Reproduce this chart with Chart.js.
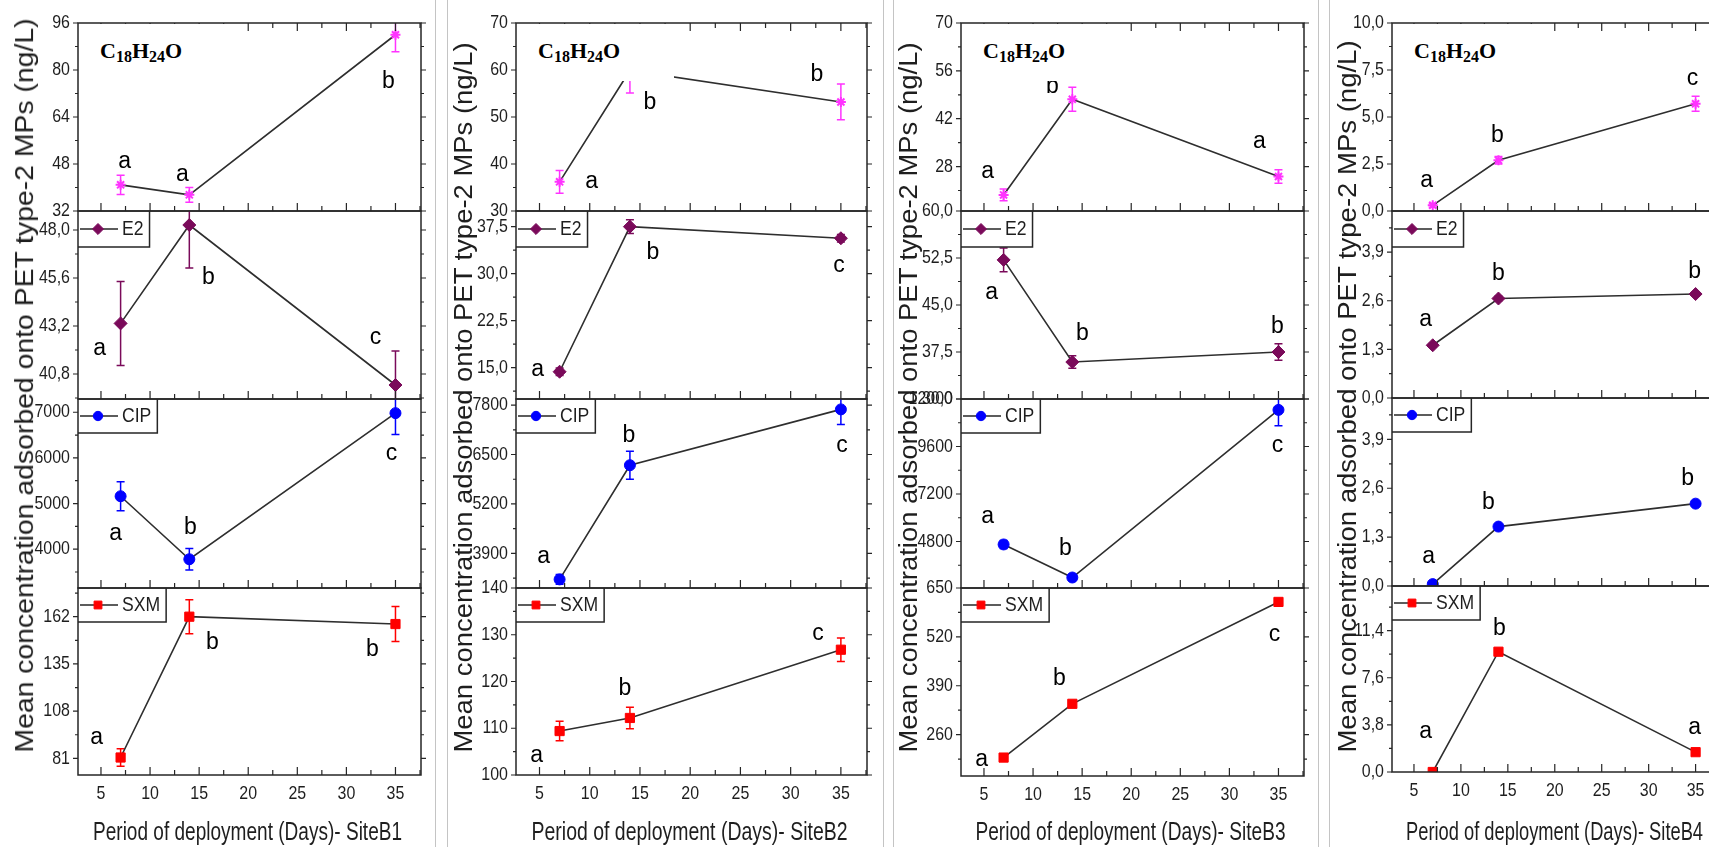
<!DOCTYPE html>
<html><head><meta charset="utf-8">
<script src="https://cdn.jsdelivr.net/npm/chart.js@4.4.1/dist/chart.umd.min.js"></script>
<style>
html,body{margin:0;padding:0;background:#fff;overflow:hidden;width:1709px;height:847px;}
#root{position:relative;width:1709px;height:847px;overflow:hidden;background:#fff;}
#root canvas{position:absolute;}
.sep{position:absolute;top:0;height:847px;width:1px;background:#c4c4c4;}
.ytitle,.xtitle{position:absolute;white-space:nowrap;font-family:'Liberation Sans',Arial,sans-serif;color:#1e1e1e;line-height:1;transform-origin:center center;}
.ytitle{font-size:25px;}
.xtitle{font-size:22px;}
.formula{position:absolute;background:#fff;width:157px;height:57px;}
.formula span{position:absolute;left:21px;top:16px;font-family:'Liberation Serif','Times New Roman',serif;font-weight:bold;font-size:22px;line-height:22px;color:#000;white-space:nowrap;}
.formula sub{font-size:16px;vertical-align:-4px;line-height:0;}
</style></head>
<body><div id="root"></div>
<script>
// ---------------- data ----------------
const days = [7, 14, 35];
const xTicks = [5, 10, 15, 20, 25, 30, 35];
const sites = ['SiteB1', 'SiteB2', 'SiteB3', 'SiteB4'];
const compounds = ['C18H24O', 'E2', 'CIP', 'SXM'];

// mean concentration per compound (rows: C18H24O, E2, CIP, SXM; cols: day 7, 14, 35)
const siteB1Means = [[40.9, 37.5, 92.0], [43.33, 48.25, 40.25], [5160, 3780, 6980], [81.5, 162, 157.8]];
const siteB2Means = [[36.2, 59.9, 53.2], [14.35, 37.5, 35.65], [3216, 6219, 7687], [109.4, 112.2, 126.8]];
const siteB3Means = [[19.7, 47.7, 25.1], [52.2, 35.9, 37.5], [4650, 2980, 11450], [199, 342, 613]];
const siteB4Means = [[0.3, 2.7, 5.7], [1.41, 2.66, 2.78], [0.05, 1.58, 2.19], [0.0, 9.7, 1.6]];

// error (+/-)
const siteB1Errors = [[3.3, 2.5, 5.8], [2.1, 2.15, 1.7], [320, 235, 470], [5, 9.7, 10]];
const siteB2Errors = [[2.4, 4.8, 3.8], [0.6, 1.1, 0.6], [130, 370, 400], [2.1, 2.3, 2.5]];
const siteB3Errors = [[1.7, 3.5, 2.0], [1.9, 1.0, 1.3], [200, 150, 800], [8, 8, 8]];
const siteB4Errors = [[0.1, 0.2, 0.4], [0.05, 0.06, 0.05], [0.03, 0.05, 0.06], [0.1, 0.2, 0.15]];

// significance letters
const siteB1Letters = [['a', 'a', 'b'], ['a', 'b', 'c'], ['a', 'b', 'c'], ['a', 'b', 'b']];
const siteB2Letters = [['a', 'b', 'b'], ['a', 'b', 'c'], ['a', 'b', 'c'], ['a', 'b', 'c']];
const siteB3Letters = [['a', 'b', 'a'], ['a', 'b', 'b'], ['a', 'b', 'c'], ['a', 'b', 'c']];
const siteB4Letters = [['a', 'b', 'c'], ['a', 'b', 'b'], ['a', 'b', 'b'], ['a', 'b', 'a']];

// y-axis ranges [min, max]
const siteB1Ranges = [[32, 96], [39.55, 48.95], [3150, 7290], [71.5, 178.4]];
const siteB2Ranges = [[30, 70], [10, 40], [2990, 7960], [100, 140]];
const siteB3Ranges = [[15, 70], [30, 60], [2450, 12000], [150, 650]];
const siteB4Ranges = [[0, 10], [0, 5], [0, 5], [0, 15]];

// y tick labels
const siteB1Ticks = [[32, 48, 64, 80, 96], [40.8, 43.2, 45.6, 48.0], [4000, 5000, 6000, 7000], [81, 108, 135, 162]];
const siteB2Ticks = [[30, 40, 50, 60, 70], [15, 22.5, 30, 37.5], [3900, 5200, 6500, 7800], [100, 110, 120, 130, 140]];
const siteB3Ticks = [[28, 42, 56, 70], [30, 37.5, 45, 52.5, 60], [4800, 7200, 9600, 12000], [260, 390, 520, 650]];
const siteB4Ticks = [[0, 2.5, 5, 7.5, 10], [0, 1.3, 2.6, 3.9], [0, 1.3, 2.6, 3.9], [0, 3.8, 7.6, 11.4]];
const siteB1Decimals = [0, 1, 0, 0];
const siteB2Decimals = [0, 1, 0, 0];
const siteB3Decimals = [0, 1, 0, 0];
const siteB4Decimals = [1, 1, 1, 1];

const yTitle = 'Mean concentration adsorbed onto PET type-2 MPs (ng/L)';
const xTitlePrefix = 'Period of deployment (Days)- ';

// ---------------- styling / layout ----------------
const means = [siteB1Means, siteB2Means, siteB3Means, siteB4Means];
const errors = [siteB1Errors, siteB2Errors, siteB3Errors, siteB4Errors];
const letters = [siteB1Letters, siteB2Letters, siteB3Letters, siteB4Letters];
const ranges = [siteB1Ranges, siteB2Ranges, siteB3Ranges, siteB4Ranges];
const ticks = [siteB1Ticks, siteB2Ticks, siteB3Ticks, siteB4Ticks];
const decimals = [siteB1Decimals, siteB2Decimals, siteB3Decimals, siteB4Decimals];

const xMin = 2.66, xMax = 37.6;
const plotX = [[78, 421], [516, 867], [961, 1304], [1392, 1720]];
const rowY = [[23, 211, 399, 588, 775], [23, 211, 399, 588, 775], [23, 211, 399, 588, 776], [23, 211, 398, 586, 772]];
const colors = ['#ff33ff', '#7a0a5a', '#0000ff', '#ff0000'];
const pStyles = ['star', 'rectRot', 'circle', 'rect'];
const pRadius = [5, 6.5, 5.5, 6.5];
const pBorder = [2, 1, 1, 1];
const letterOffsets = [
  [[[4, -23], [-7, -20], [-7, 47]], [[-21, 25], [19, 53], [-20, -47]], [[-5, 37], [1, -32], [-4, 41]], [[-24, -20], [23, 26], [-23, 26]]],
  [[[32, 0], [20, 32], [-24, -27]], [[-22, -2], [23, 26], [-2, 27]], [[-16, -23], [-1, -30], [1, 36]], [[-23, 25], [-5, -29], [-23, -16]]],
  [[[-16, -23], [-20, -13], [-19, -35]], [[-12, 33], [10, -28], [-1, -25]], [[-16, -28], [-7, -29], [-1, 36]], [[-22, 2], [-13, -25], [-4, 33]]],
  [[[-6, -25], [-1, -25], [-3, -25]], [[-7, -26], [0, -25], [-1, -22]], [[-4, -27], [-10, -24], [-8, -25]], [[-7, -40], [1, -23], [-1, -25]]]
];
const yTitleX = [24, 463, 908, 1347];
const yTitleLen = [734, 710, 710, 712];
const xTitleW = [309, 316, 310, 297];
const sepX = [435, 447, 883, 893, 1318, 1329];
const TICKFONT = '19px "Liberation Sans", Arial, sans-serif';
const LINE = '#262626';

function fmt(v, d) { return v.toFixed(d).replace('.', ','); }
function condensedText(ctx, text, x, y, font, sx, align, color) {
  ctx.save();
  ctx.translate(x, y);
  ctx.scale(sx, 1);
  ctx.font = font;
  ctx.textAlign = align;
  ctx.textBaseline = 'middle';
  ctx.fillStyle = color || '#1e1e1e';
  ctx.fillText(text, 0, 0);
  ctx.restore();
}
function minors(tk, min, max) {
  const out = [];
  const st = tk[1] - tk[0];
  let v = tk[0] - st / 2;
  while (v >= min - 1e-9) { out.push(v); v -= st; }
  for (let i = 0; i < tk.length; i++) { const m = tk[i] + st / 2; if (m <= max + 1e-9) out.push(m); }
  return out;
}

const panelPlugin = {
  id: 'panel',
  beforeDatasetsDraw(chart, args, o) {
    const ctx = chart.ctx, ca = chart.chartArea;
    const xs = chart.scales.x, ys = chart.scales.y;
    const m = means[o.si][o.ci], e = errors[o.si][o.ci];
    ctx.save();
    ctx.beginPath(); ctx.rect(ca.left, ca.top, ca.right - ca.left, ca.bottom - ca.top); ctx.clip();
    ctx.strokeStyle = colors[o.ci]; ctx.lineWidth = 1.5;
    for (let k = 0; k < days.length; k++) {
      const px = xs.getPixelForValue(days[k]);
      const y1 = ys.getPixelForValue(m[k] + e[k]);
      const y2 = ys.getPixelForValue(m[k] - e[k]);
      ctx.beginPath();
      ctx.moveTo(px, y1); ctx.lineTo(px, y2);
      ctx.moveTo(px - 4, y1); ctx.lineTo(px + 4, y1);
      ctx.moveTo(px - 4, y2); ctx.lineTo(px + 4, y2);
      ctx.stroke();
    }
    ctx.restore();
  },
  afterDraw(chart, args, o) {
    const ctx = chart.ctx, ca = chart.chartArea;
    const xs = chart.scales.x, ys = chart.scales.y;
    const si = o.si, ci = o.ci;
    const rg = ranges[si][ci], tk = ticks[si][ci];
    ctx.save();
    // frame
    ctx.strokeStyle = LINE; ctx.lineWidth = 1.5;
    ctx.strokeRect(ca.left, ca.top, ca.right - ca.left, ca.bottom - ca.top);
    // y ticks (outward, left and right)
    ctx.lineWidth = 1.2;
    ctx.beginPath();
    tk.forEach(v => { const py = ys.getPixelForValue(v); ctx.moveTo(ca.left - 5, py); ctx.lineTo(ca.left, py); ctx.moveTo(ca.right, py); ctx.lineTo(ca.right + 5, py); });
    minors(tk, rg[0], rg[1]).forEach(v => { const py = ys.getPixelForValue(v); ctx.moveTo(ca.left - 3, py); ctx.lineTo(ca.left, py); ctx.moveTo(ca.right, py); ctx.lineTo(ca.right + 3, py); });
    // x ticks (inward, bottom; top for first row)
    xTicks.forEach(v => {
      const px = xs.getPixelForValue(v);
      ctx.moveTo(px, ca.bottom); ctx.lineTo(px, ca.bottom - 8);
      if (ci === 0) { ctx.moveTo(px, ca.top); ctx.lineTo(px, ca.top + 8); }
    });
    minors(xTicks, xMin, xMax).forEach(v => {
      const px = xs.getPixelForValue(v);
      ctx.moveTo(px, ca.bottom); ctx.lineTo(px, ca.bottom - 5);
      if (ci === 0) { ctx.moveTo(px, ca.top); ctx.lineTo(px, ca.top + 5); }
    });
    ctx.stroke();
    // y tick labels
    tk.forEach(v => condensedText(ctx, fmt(v, decimals[si][ci]), ca.left - 8, ys.getPixelForValue(v), TICKFONT, 0.84, 'right'));
    // x tick labels on bottom row
    if (ci === 3) {
      xTicks.forEach(v => condensedText(ctx, String(v), xs.getPixelForValue(v), ca.bottom + 19, TICKFONT, 0.84, 'center'));
    }
    // letters
    const m = means[si][ci], off = letterOffsets[si][ci], lt = letters[si][ci];
    ctx.font = '23px "Liberation Sans", Arial, sans-serif';
    ctx.fillStyle = '#000'; ctx.textAlign = 'center'; ctx.textBaseline = 'middle';
    for (let k = 0; k < days.length; k++) {
      ctx.fillText(lt[k], xs.getPixelForValue(days[k]) + off[k][0], ys.getPixelForValue(m[k]) + off[k][1]);
    }
    // legend box
    if (ci > 0) {
      const lfont = '20px "Liberation Sans", Arial, sans-serif';
      ctx.font = lfont;
      const tw = ctx.measureText(compounds[ci]).width * 0.88;
      const bh = ci === 1 ? 36 : 34;
      const cy = ca.top + bh / 2;
      const bw = 44 + tw + 6;
      ctx.strokeStyle = LINE; ctx.lineWidth = 1.5;
      ctx.beginPath(); ctx.moveTo(ca.left + bw, ca.top); ctx.lineTo(ca.left + bw, ca.top + bh); ctx.lineTo(ca.left, ca.top + bh); ctx.stroke();
      ctx.lineWidth = 1.5;
      ctx.beginPath(); ctx.moveTo(ca.left + 2, cy); ctx.lineTo(ca.left + 40, cy); ctx.stroke();
      ctx.fillStyle = colors[ci]; ctx.strokeStyle = colors[ci]; ctx.lineWidth = 1;
      Chart.helpers.drawPoint(ctx, { pointStyle: pStyles[ci], radius: pRadius[ci] * 0.85, borderWidth: 1 }, ca.left + 20, cy);
      condensedText(ctx, compounds[ci], ca.left + 44, cy, lfont, 0.88, 'left');
    }
    ctx.restore();
  }
};

const root = document.getElementById('root');
for (let si = 0; si < sites.length; si++) {
  for (let ci = 0; ci < compounds.length; ci++) {
    const L = plotX[si][0], R = plotX[si][1], T = rowY[si][ci], B = rowY[si][ci + 1];
    const padL = 72, padR = 14, padT = 14, padB = ci === 3 ? 36 : 14;
    const w = R - L + padL + padR, h = B - T + padT + padB;
    const cv = document.createElement('canvas');
    cv.width = w; cv.height = h;
    cv.style.width = w + 'px'; cv.style.height = h + 'px';
    cv.style.left = (L - padL) + 'px'; cv.style.top = (T - padT) + 'px';
    root.appendChild(cv);
    new Chart(cv, {
      type: 'line',
      data: {
        datasets: [{
          label: compounds[ci],
          data: days.map((d, k) => ({ x: d, y: means[si][ci][k] })),
          borderColor: '#2e2e2e', borderWidth: 1.6, tension: 0, fill: false,
          pointStyle: pStyles[ci], pointRadius: pRadius[ci],
          pointBackgroundColor: colors[ci], pointBorderColor: colors[ci], pointBorderWidth: pBorder[ci]
        }]
      },
      options: {
        responsive: false, animation: false, devicePixelRatio: 1,
        layout: { padding: { left: padL, right: padR, top: padT, bottom: padB } },
        plugins: { legend: { display: false }, tooltip: { enabled: false }, panel: { si, ci } },
        scales: {
          x: { type: 'linear', display: false, min: xMin, max: xMax },
          y: { type: 'linear', display: false, min: ranges[si][ci][0], max: ranges[si][ci][1] }
        }
      },
      plugins: [panelPlugin]
    });
  }
}

// separators
sepX.forEach(x => { const d = document.createElement('div'); d.className = 'sep'; d.style.left = x + 'px'; root.appendChild(d); });

// titles
for (let si = 0; si < sites.length; si++) {
  const L = plotX[si][0], R = plotX[si][1];
  // formula box
  const f = document.createElement('div');
  f.className = 'formula';
  f.style.left = (L + 1) + 'px'; f.style.top = '24px';
  f.innerHTML = '<span>C<sub>18</sub>H<sub>24</sub>O</span>';
  root.appendChild(f);
  // y title
  const yt = document.createElement('div');
  yt.className = 'ytitle'; yt.textContent = yTitle;
  root.appendChild(yt);
  const w0 = yt.offsetWidth, h0 = yt.offsetHeight;
  const cy = 752 - yTitleLen[si] / 2;
  yt.style.left = (yTitleX[si] - w0 / 2) + 'px';
  yt.style.top = (cy - h0 / 2) + 'px';
  yt.style.transform = 'rotate(-90deg) scaleX(' + (yTitleLen[si] / w0) + ')';
  // x title
  const xt = document.createElement('div');
  xt.className = 'xtitle'; xt.textContent = xTitlePrefix + sites[si];
  root.appendChild(xt);
  const w1 = xt.offsetWidth, h1 = xt.offsetHeight;
  xt.style.left = ((L + R) / 2 - 2 - w1 / 2) + 'px';
  xt.style.top = (832 - h1 / 2) + 'px';
  xt.style.transform = 'scale(' + (xTitleW[si] / w1) + ',1.15)';
}
</script>
</body></html>
